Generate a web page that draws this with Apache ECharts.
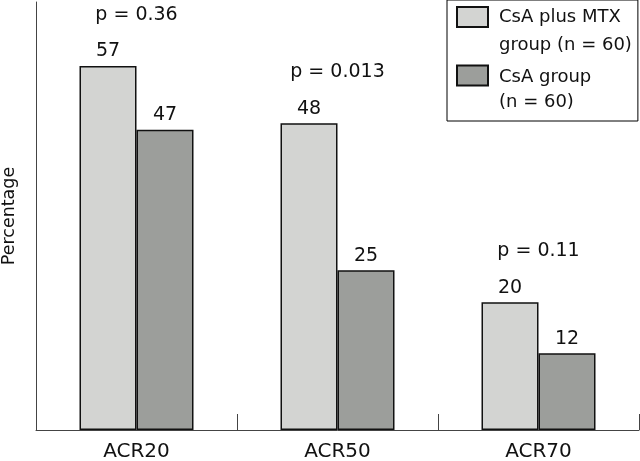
<!DOCTYPE html>
<html>
<head>
<meta charset="utf-8">
<script src="https://cdn.jsdelivr.net/npm/echarts@6/dist/echarts.min.js"></script>
<style>html,body{margin:0;padding:0;background:#fff}#c{width:640px;height:461px}</style>
</head>
<body>
<div id="c"></div>
<script>
var categories = ['ACR20', 'ACR50', 'ACR70'];
var csaMtx = [57, 48, 20];
var csaOnly = [47, 25, 12];
var pValues = ['p = 0.36', 'p = 0.013', 'p = 0.11'];
var seriesNames = ['CsA plus MTX\ngroup (n = 60)', 'CsA group\n(n = 60)'];

var FONT = 'DejaVu Sans';
var chart = echarts.init(document.getElementById('c'));
var pData = categories.map(function (c, i) {
  return { value: [c, Math.max(csaMtx[i], csaOnly[i])], label: { formatter: pValues[i] } };
});
chart.setOption({
  animation: false,
  textStyle: { fontFamily: FONT },
  grid: { left: 36, right: 1, top: 2, bottom: 31, outerBoundsMode: 'none', containLabel: false },
  legend: {
    left: 447, top: 0, orient: 'vertical',
    padding: [3.5, 6, 5.5, 9],
    borderColor: '#000', borderWidth: 1,
    itemWidth: 31, itemHeight: 49, itemGap: 5,
    icon: 'path://M0,0L31,0L31,20L0,20Z M0,49',
    textStyle: { fontFamily: FONT, fontSize: 18, color: '#111', padding: [0, 0, 0, 6] },
    data: [
      { name: seriesNames[0], textStyle: { lineHeight: 28 } },
      { name: seriesNames[1], textStyle: { lineHeight: 25 } }
    ]
  },
  xAxis: {
    type: 'category', data: categories,
    axisLine: { lineStyle: { color: '#444', width: 1 } },
    axisTick: { show: true, inside: true, length: 16, lineStyle: { color: '#444' } },
    axisLabel: { fontFamily: FONT, fontSize: 20, color: '#111', margin: 12 }
  },
  yAxis: {
    type: 'value', min: 0, max: 67,
    name: 'Percentage', nameLocation: 'middle', nameGap: 18,
    nameTextStyle: { fontFamily: FONT, fontSize: 17.5, color: '#111' },
    axisLine: { show: true, lineStyle: { color: '#444', width: 1 } },
    axisTick: { show: false }, axisLabel: { show: false }, splitLine: { show: false }
  },
  series: [
    {
      name: seriesNames[0], type: 'bar', data: csaMtx, barWidth: 57, barGap: '0%',
      itemStyle: { color: '#d3d4d2', borderColor: '#111', borderWidth: 1.5 },
      label: { show: true, position: 'top', distance: 5, fontFamily: FONT, fontSize: 19, color: '#111' }
    },
    {
      name: seriesNames[1], type: 'bar', data: csaOnly, barWidth: 57,
      itemStyle: { color: '#9c9e9b', borderColor: '#111', borderWidth: 1.5 },
      label: { show: true, position: 'top', distance: 5, fontFamily: FONT, fontSize: 19, color: '#111' }
    },
    {
      type: 'scatter', data: pData, symbolSize: 1,
      itemStyle: { color: 'rgba(0,0,0,0)', opacity: 1 },
      silent: true,
      label: { show: true, position: 'top', distance: 41, fontFamily: FONT, fontSize: 19, color: '#111', opacity: 1 }
    }
  ]
});
</script>
</body>
</html>
